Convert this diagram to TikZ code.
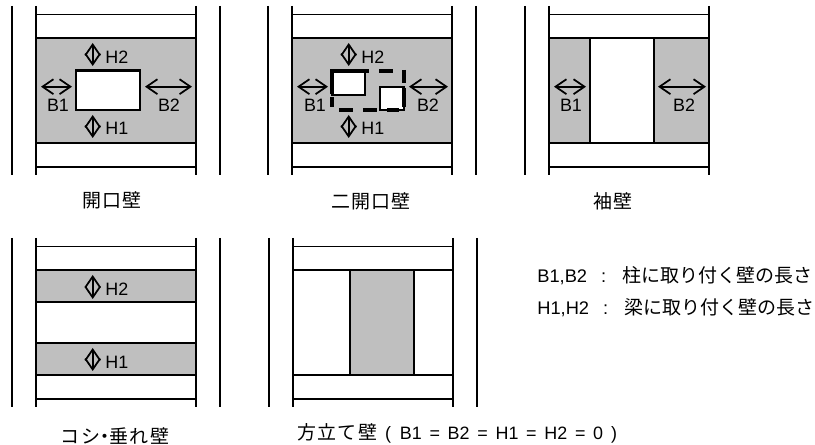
\documentclass[tikz,border=0pt]{standalone}
\usepackage{fontspec}
\setmainfont{Liberation Sans}
\newfontfamily\jp{Noto Sans CJK JP}
\newfontfamily\jpcap[LetterSpace=7]{Noto Sans CJK JP}
\usetikzlibrary{arrows.meta}
\definecolor{wallgrey}{gray}{0.75}
\tikzset{
  beam/.style={line width=1pt},
  wall/.style={fill=wallgrey,draw=black,line width=1.2pt},
  hole/.style={fill=white,draw=black,line width=1.2pt},
  dimline/.style={line width=1pt,{Straight Barb[length=6.2pt,width=8.5pt]}-{Straight Barb[length=6.2pt,width=8.5pt]}},
  thickdash/.style={line width=2.1pt},
  lbl/.style={font=\fontsize{10.2}{12}\selectfont,inner sep=0pt},
  capt/.style={font=\fontsize{10.8}{12}\selectfont\jpcap,inner sep=0pt},
  txt/.style={font=\fontsize{10.4}{12}\selectfont,inner sep=0pt,anchor=west}
}
\def \dxb {256}
\def \dxe {257}
\def \dy {232}
% columns and beams of one panel: left, top
\newcommand{\beams}[2]{
  \draw[beam] (#1,6+#2)--(#1,175+#2); \draw[beam] (#1+160,6+#2)--(#1+160,175+#2);
  \draw[beam] (#1,14.5+#2)--(#1+160,14.5+#2); \draw[beam] (#1,167+#2)--(#1+160,167+#2);
}
\begin{document}
\begin{tikzpicture}[x=0.02cm,y=-0.02cm]
  \useasboundingbox (0,0) rectangle (815,445);
  %outer lines
  \draw[beam] (12,6)--(12,175); \draw[beam] (220,6)--(220,175);
  \draw[beam] (12+\dxb,6)--(12+\dxb,175); \draw[beam] (220+\dxb,6)--(220+\dxb,175);
  \draw[beam] (525,6)--(525,175);
  \draw[beam] (12,6+\dy)--(12,175+\dy); \draw[beam] (220,6+\dy)--(220,175+\dy);
  \draw[beam] (12+\dxe,6+\dy)--(12+\dxe,175+\dy); \draw[beam] (220+\dxe,6+\dy)--(220+\dxe,175+\dy);
  %columns and beams
  \beams{36}{0} \beams{36+\dxb}{0} \beams{549}{0} \beams{36}{\dy} \beams{36+\dxe}{\dy}
  %opening wall
  \draw[wall] (36,38) rectangle (196,143);
  \draw[hole] (76,70.5) rectangle (140,110);
  \draw[dimline] (92.7,43)--(92.7,66); \node[lbl,anchor=west] (h2a) at (105,57) {H2};
  \draw[dimline] (92.7,115)--(92.7,138); \node[lbl,anchor=west] (h1a) at (105,128) {H1};
  \draw[dimline] (41,86.7)--(72,86.7); \node[lbl] (b1a) at (58,105) {B1};
  \draw[dimline] (145,86.7)--(192,86.7); \node[lbl] (b2a) at (169,105) {B2};
  \node[capt] (capa) at (112,200) {開口壁};
  %two opening wall
  \draw[wall] (36+\dxb,38) rectangle (196+\dxb,143);
  \draw[hole] (332.5,71) rectangle (365,95);
  \draw[hole] (380,87) rectangle (404,110);
  \draw[thickdash] (332,94)--(332,71)--(369,71); \draw[thickdash] (379,71)--(393,71);
  \draw[thickdash] (332,97)--(332,107);
  \draw[thickdash] (404,70)--(404,83); \draw[thickdash] (404,88)--(404,107);
  \draw[thickdash,dash pattern=on 7.9pt off 5.7pt] (339,110)--(399,110);
  \draw[dimline] (92.7+\dxb,43)--(92.7+\dxb,66); \node[lbl,anchor=west] (h2b) at (105+\dxb,57) {H2};
  \draw[dimline] (92.7+\dxb,115)--(92.7+\dxb,138); \node[lbl,anchor=west] (h1b) at (105+\dxb,128) {H1};
  \draw[dimline] (41+\dxb,86.7)--(72+\dxb,86.7); \node[lbl] (b1b) at (315,105) {B1};
  \draw[dimline] (409,86.7)--(448,86.7); \node[lbl] (b2b) at (428,105) {B2};
  \node[capt] (capb) at (371,201) {二開口壁};
  %wing wall
  \draw[wall] (549,38) rectangle (709,143);
  \draw[hole] (590,38) rectangle (654,143);
  \draw[dimline] (554,86.7)--(586,86.7); \node[lbl] (b1c) at (571,105) {B1};
  \draw[dimline] (658,86.7)--(706,86.7); \node[lbl] (b2c) at (684,105) {B2};
  \node[capt] (capc) at (613,201) {袖壁};
  %spandrel wall
  \draw[wall] (36,270) rectangle (196,302);
  \draw[wall] (36,343) rectangle (196,375);
  \draw[dimline] (92.7,275)--(92.7,299); \node[lbl,anchor=west] (h2d) at (105,289) {H2};
  \draw[dimline] (92.7,348)--(92.7,371); \node[lbl,anchor=west] (h1d) at (105,362) {H1};
  \node[capt] (capd) at (115,436) {コシ\hspace{-0.25em}・\hspace{-0.25em}垂れ壁};
  %mullion wall
  \draw[hole] (293,270) rectangle (453,375);
  \draw[wall] (350,270) rectangle (414,375);
  \node[capt,anchor=west] (cape) at (297,433) {方立て壁\hspace{4.5pt}{\fontsize{10.2}{12}\selectfont\rmfamily\spaceskip=4.4pt (\hspace{5pt}B1 = B2 = H1 = H2 = 0\hspace{4.5pt})}};
  %legend
  \node[txt] (keyb) at (537,276) {B1,B2\hspace{8pt}:\hspace{9.4pt}{\fontsize{10.8}{12}\selectfont\jp 柱に取り付く壁の長さ}};
  \node[txt] (keyh) at (537,308) {H1,H2\hspace{8pt}:\hspace{9.4pt}{\fontsize{10.8}{12}\selectfont\jp 梁に取り付く壁の長さ}};
\end{tikzpicture}
\end{document}
